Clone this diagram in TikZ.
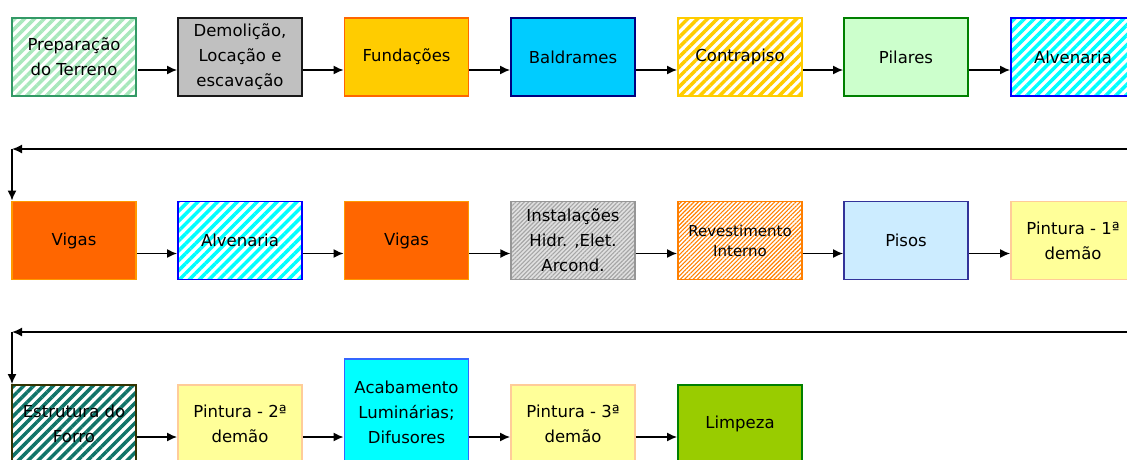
\documentclass[tikz,border=0pt]{standalone}
\usepackage{fontspec}
\setmainfont{DejaVu Sans}
\usetikzlibrary{arrows.meta,patterns.meta}

\definecolor{menta}{HTML}{A8E8BC}
\definecolor{verdemar}{HTML}{339966}
\definecolor{cinza}{HTML}{C0C0C0}
\definecolor{ouro}{HTML}{FFCC00}
\definecolor{laranja}{HTML}{FF6600}
\definecolor{laranjaclaro}{HTML}{FF9900}
\definecolor{laranjamedio}{HTML}{FF7F00}
\definecolor{celeste}{HTML}{00CCFF}
\definecolor{marinho}{HTML}{000080}
\definecolor{verdeclaro}{HTML}{CCFFCC}
\definecolor{verde}{HTML}{008000}
\definecolor{ciano}{HTML}{00FFFF}
\definecolor{azul}{HTML}{0000FF}
\definecolor{azulpiso}{HTML}{CCECFF}
\definecolor{anil}{HTML}{333399}
\definecolor{amarelo}{HTML}{FFFF99}
\definecolor{pessego}{HTML}{FFCC99}
\definecolor{petroleo}{HTML}{107468}
\definecolor{oliva}{HTML}{333300}
\definecolor{azulborda}{HTML}{3366FF}
\definecolor{lima}{HTML}{99CC00}

\begin{document}
\begin{tikzpicture}[x=1pt,y=-1pt,
    etapa/.style={draw,line width=1.8pt,minimum width=124pt,minimum height=78pt,
      align=center,font=\fontsize{16.5}{25}\selectfont},
    listrada/.style={pattern={Lines[angle=45,distance=7pt,line width=3.5pt]}},
    fina/.style={pattern={Lines[angle=45,distance=3pt,line width=1.1pt]}},
    seta/.style={-{Latex[length=10pt,width=9pt]},line width=1.6pt}]
    \clip (0,0) rectangle (1127,459);
    % linha 1
    \node[etapa,listrada,draw=verdemar,pattern color=menta] (prep) at (74,57) {Preparação\\do Terreno};
    \node[etapa,fill=cinza,draw=black!90] (demo) at (240,57) {Demolição,\\Locação e\\escavação};
    \node[etapa,fill=ouro,draw=laranja] (fund) at (406.5,57) {Fundações};
    \node[etapa,fill=celeste,draw=marinho] (bald) at (573,57) {Baldrames};
    \node[etapa,listrada,draw=ouro,pattern color=ouro] (contra) at (740,57) {Contrapiso};
    \node[etapa,fill=verdeclaro,draw=verde] (pil) at (906,57) {Pilares};
    \node[etapa,listrada,draw=azul,pattern color=ciano] (alv) at (1073,57) {Alvenaria};
    \draw[seta] ([yshift=-13pt]prep.east) -- ([yshift=-13pt]demo.west);
    \draw[seta] ([yshift=-13pt]demo.east) -- ([yshift=-13pt]fund.west);
    \draw[seta] ([yshift=-13pt]fund.east) -- ([yshift=-13pt]bald.west);
    \draw[seta] ([yshift=-13pt]bald.east) -- ([yshift=-13pt]contra.west);
    \draw[seta] ([yshift=-13pt]contra.east) -- ([yshift=-13pt]pil.west);
    \draw[seta] ([yshift=-13pt]pil.east) -- ([yshift=-13pt]alv.west);
    % retorno 1
    \coordinate (ret1a) at (1130,149);
    \coordinate (ret1b) at (12,149);
    % linha 2
    \node[etapa,fill=laranja,draw=laranjaclaro] (vig1) at (74,240.5) {Vigas};
    \node[etapa,listrada,draw=azul,pattern color=ciano] (alv2) at (240,240.5) {Alvenaria};
    \node[etapa,fill=laranja,draw=laranjaclaro] (vig2) at (406.5,240.5) {Vigas};
    \node[etapa,preaction={fill=black!12},fina,pattern color=black!35,draw=black!41] (inst) at (573,240.5) {Instalações\\Hidr. ,Elet.\\Arcond.};
    \node[etapa,fina,pattern color=laranjamedio,draw=laranjamedio,font=\fontsize{15}{20}\selectfont] (rev) at (740,240.5) {Revestimento\\Interno};
    \node[etapa,fill=azulpiso,draw=anil] (pisos) at (906,240.5) {Pisos};
    \node[etapa,fill=amarelo,draw=pessego] (pint1) at (1073,240.5) {Pintura - 1ª\\demão};
    \draw[seta] (ret1a) -- (ret1b);
    \draw[seta] (ret1b) -- (ret1b |- vig1.north);
    \draw[seta] ([yshift=-13pt]vig1.east) -- ([yshift=-13pt]alv2.west);
    \draw[seta] ([yshift=-13pt]alv2.east) -- ([yshift=-13pt]vig2.west);
    \draw[seta] ([yshift=-13pt]vig2.east) -- ([yshift=-13pt]inst.west);
    \draw[seta] ([yshift=-13pt]inst.east) -- ([yshift=-13pt]rev.west);
    \draw[seta] ([yshift=-13pt]rev.east) -- ([yshift=-13pt]pisos.west);
    \draw[seta] ([yshift=-13pt]pisos.east) -- ([yshift=-13pt]pint1.west);
    % retorno 2
    \coordinate (ret2a) at (1130,332);
    \coordinate (ret2b) at (12,332);
    % linha 3
    \node[etapa,listrada,draw=oliva,pattern color=petroleo] (estr) at (74,424) {Estrutura do\\Forro};
    \node[etapa,fill=amarelo,draw=pessego] (pint2) at (240,424) {Pintura - 2ª\\demão};
    \node[etapa,fill=ciano,draw=azulborda,minimum height=106pt] (acab) at (406.5,412) {Acabamento\\Luminárias;\\Difusores};
    \node[etapa,fill=amarelo,draw=pessego] (pint3) at (573,424) {Pintura - 3ª\\demão};
    \node[etapa,fill=lima,draw=verde] (limp) at (740,424) {Limpeza};
    \draw[seta] (ret2a) -- (ret2b);
    \draw[seta] (ret2b) -- (ret2b |- estr.north);
    \draw[seta] ([yshift=-13pt]estr.east) -- ([yshift=-13pt]pint2.west);
    \draw[seta] ([yshift=-13pt]pint2.east) -- ([yshift=-13pt]pint2.east -| acab.west);
    \draw[seta] ([yshift=-13pt]pint3.west -| acab.east) -- ([yshift=-13pt]pint3.west);
    \draw[seta] ([yshift=-13pt]pint3.east) -- ([yshift=-13pt]limp.west);
  \end{tikzpicture}
\end{document}
